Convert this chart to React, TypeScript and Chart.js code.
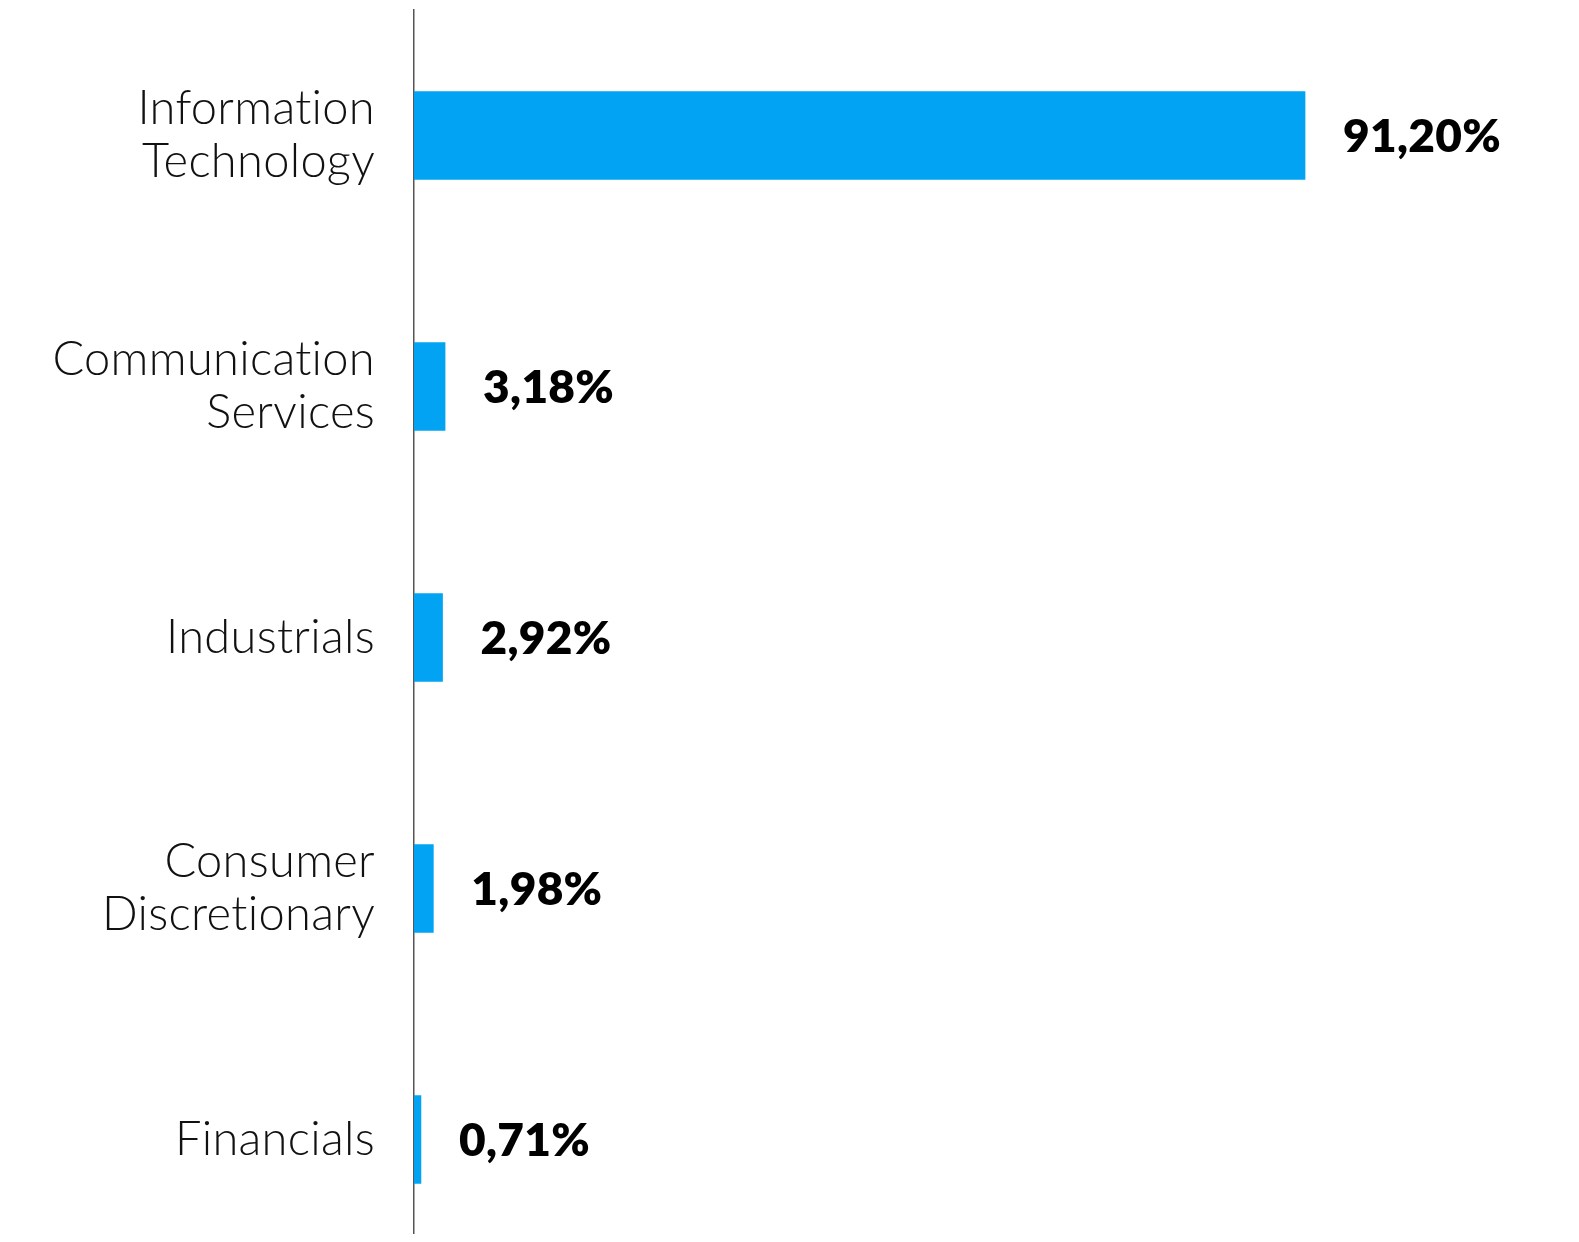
import React, { useEffect, useRef } from "react";
import { Chart, registerables } from "chart.js";

Chart.register(...registerables);

const categories: string[][] = [
  ["Information", "Technology"],
  ["Communication", "Services"],
  ["Industrials"],
  ["Consumer", "Discretionary"],
  ["Financials"],
];
const values: number[] = [91.2, 3.18, 2.92, 1.98, 0.71];
const valueLabels: string[] = ["91,20%", "3,18%", "2,92%", "1,98%", "0,71%"];

const renderPlugin = {
  id: "textRender",
  beforeDraw(chart: any) {
    const ctx = chart.ctx as any;
    ctx.textRendering = "optimizeSpeed";
    ctx.letterSpacing = "0.3px";
  },
};

const valueLabelPlugin = {
  id: "valueLabels",
  afterDatasetsDraw(chart: any) {
    const ctx = chart.ctx;
    const meta = chart.getDatasetMeta(0);
    ctx.save();
    ctx.font = "800 46px Lato, 'Open Sans', sans-serif";
    ctx.fillStyle = "#000000";
    ctx.textAlign = "left";
    ctx.textBaseline = "middle";
    meta.data.forEach((bar: any, i: number) => {
      ctx.fillText(valueLabels[i], bar.x + 38, bar.y + 2);
    });
    ctx.restore();
  },
};

export default function App() {
  const ref = useRef<HTMLCanvasElement | null>(null);
  useEffect(() => {
    const chart = new Chart(ref.current as HTMLCanvasElement, {
      type: "bar",
      data: {
        labels: categories,
        datasets: [
          {
            data: values,
            backgroundColor: "#02A3F2",
            barThickness: 88,
          },
        ],
      },
      options: {
        indexAxis: "y",
        animation: false,
        responsive: false,
        maintainAspectRatio: false,
        layout: { padding: { top: 2, bottom: 5, left: 0, right: 180 } },
        plugins: { legend: { display: false }, tooltip: { enabled: false } },
        scales: {
          x: { display: false, min: 0, max: 100 },
          y: {
            afterFit(scale: any) {
              scale.width = 406;
              scale.paddingTop = 0;
              scale.paddingBottom = 0;
            },
            grid: { display: false, drawTicks: false },
            border: { display: true, color: "#555555", width: 1.5 },
            ticks: {
              padding: 39,
              color: "#111111",
              font: { family: "Lato, 'Open Sans', sans-serif", size: 47, weight: 300, lineHeight: 1.13 },
            },
          },
        },
      },
      plugins: [renderPlugin, valueLabelPlugin],
    });
    return () => chart.destroy();
  }, []);
  return (
    <div style={{ width: 1563, height: 1226, overflow: "hidden" }}>
      <canvas ref={ref} width={1563} height={1262} style={{ display: "block" }} />
    </div>
  );
}
